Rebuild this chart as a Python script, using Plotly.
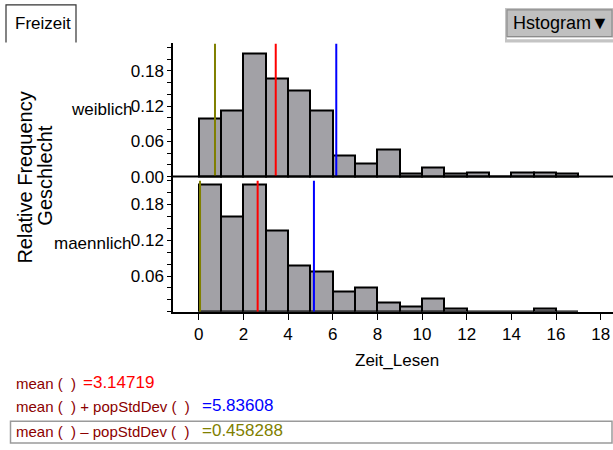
import plotly.graph_objects as go

W, H = 613, 450
FONT = "Liberation Sans, Arial, sans-serif"

# Histogram of reading time (hours), relative frequency per 1-hour bin, split by gender
bin_left = list(range(17))
weiblich = [0.100, 0.112, 0.210, 0.167, 0.147, 0.112, 0.037, 0.023, 0.046,
            0.006, 0.015, 0.006, 0.008, 0.0, 0.008, 0.008, 0.006]
maennlich = [0.214, 0.160, 0.214, 0.137, 0.077, 0.068, 0.034, 0.040, 0.015,
             0.008, 0.023, 0.006, 0.0, 0.0, 0.0, 0.006, 0.0]

# Group statistics drawn as vertical lines: mean, mean + sd, mean - sd
stat_weiblich = [3.45, 6.16, 0.73]
stat_maennlich = [2.64, 5.16, 0.06]
stat_colors = ["#ff0000", "#0000ff", "#808000"]

# Overall values shown in the formula area
overall_values = ["3.14719", "5.83608", "0.458288"]
formula_texts = ["mean (  )", "mean (  ) + popStdDev (  )", "mean (  ) \u2013 popStdDev (  )"]

group_labels = ["weiblich", "maennlich"]
x_ticks = list(range(0, 19, 2))


def px(x):
    return x / W


def py(y):
    return 1 - y / H


BAR_FILL = "#a2a1a6"
centers = [b + 0.5 for b in bin_left]

fig = go.Figure()
fig.add_trace(go.Bar(x=centers, y=weiblich, width=1, yaxis="y2", xaxis="x",
                     marker=dict(color=BAR_FILL, line=dict(color="black", width=2)),
                     showlegend=False))
fig.add_trace(go.Bar(x=centers, y=maennlich, width=1, yaxis="y", xaxis="x",
                     marker=dict(color=BAR_FILL, line=dict(color="black", width=2)),
                     showlegend=False))

UP_TOP = 0.227
LO_TOP = 0.2202

shapes = []
# statistic lines
for v, c in zip(stat_weiblich, stat_colors):
    shapes.append(dict(type="line", xref="x", yref="y2", x0=v, x1=v, y0=0, y1=UP_TOP,
                       line=dict(color=c, width=2), layer="above"))
for v, c in zip(stat_maennlich, stat_colors):
    shapes.append(dict(type="line", xref="x", yref="y", x0=v, x1=v, y0=0, y1=LO_TOP,
                       line=dict(color=c, width=2), layer="above"))
# baseline of the upper panel
shapes.append(dict(type="line", xref="x domain", yref="y2", x0=0, x1=1, y0=0, y1=0,
                   line=dict(color="black", width=2), layer="above"))

# "Freizeit" tab outline
shapes.append(dict(type="path", xref="paper", yref="paper",
                   path=f"M {px(6)} {py(43)} L {px(6)} {py(5)} L {px(76)} {py(5)} L {px(76)} {py(43)}",
                   line=dict(color="#333333", width=1.2)))
# "Hstogram" menu button
shapes.append(dict(type="rect", xref="paper", yref="paper", x0=px(505), x1=px(613),
                   y0=py(43), y1=py(8), fillcolor="#c4c4c4", line=dict(width=0)))
shapes.append(dict(type="rect", xref="paper", yref="paper", x0=px(507), x1=px(612),
                   y0=py(37), y1=py(10), fillcolor="#c0c0c0",
                   line=dict(color="#8c8c8c", width=1.2)))
shapes.append(dict(type="line", xref="paper", yref="paper", x0=px(507), x1=px(613),
                   y0=py(39), y1=py(39), line=dict(color="white", width=1.5)))
# box around the last formula line
shapes.append(dict(type="rect", xref="paper", yref="paper", x0=px(10.5), x1=px(612),
                   y0=py(449), y1=py(427), line=dict(color="#9a9a9a", width=1.5)))

ann = []
ann.append(dict(text="Freizeit", x=px(13), y=py(24), xref="paper", yref="paper",
                xanchor="left", yanchor="middle", showarrow=False,
                font=dict(family=FONT, size=17, color="black")))
ann.append(dict(text="Hstogram\u25bc", x=px(511), y=py(23), xref="paper", yref="paper",
                xanchor="left", yanchor="middle", showarrow=False,
                font=dict(family=FONT, size=18, color="black")))
ann.append(dict(text=group_labels[0], x=px(134), y=py(111), xref="paper", yref="paper",
                xanchor="right", yanchor="middle", showarrow=False,
                font=dict(family=FONT, size=17, color="black")))
ann.append(dict(text=group_labels[1], x=px(134), y=py(247), xref="paper", yref="paper",
                xanchor="right", yanchor="middle", showarrow=False,
                font=dict(family=FONT, size=17, color="black")))
ann.append(dict(text="Relative Frequency", x=px(25), y=py(180), xref="paper", yref="paper",
                xanchor="center", yanchor="middle", textangle=-90, showarrow=False,
                font=dict(family=FONT, size=20, color="black")))
ann.append(dict(text="Geschlecht", x=px(45), y=py(178), xref="paper", yref="paper",
                xanchor="center", yanchor="middle", textangle=-90, showarrow=False,
                font=dict(family=FONT, size=20, color="black")))
ann.append(dict(text="Zeit_Lesen", x=px(397), y=py(365), xref="paper", yref="paper",
                xanchor="center", yanchor="middle", showarrow=False,
                font=dict(family=FONT, size=17, color="black")))

row_y = [389, 412, 437]
val_x = [81, 200, 200]
for t, v, c, yy, vx in zip(formula_texts, overall_values, stat_colors, row_y, val_x):
    ann.append(dict(text=t, x=px(14), y=py(yy), xref="paper", yref="paper",
                    xanchor="left", yanchor="middle", showarrow=False,
                    font=dict(family=FONT, size=15, color="#8b0000")))
    ann.append(dict(text="=" + v, x=px(vx), y=py(yy - 1), xref="paper", yref="paper",
                    xanchor="left", yanchor="middle", showarrow=False,
                    font=dict(family=FONT, size=17, color=c)))

tickfont = dict(family=FONT, size=17, color="black")

fig.update_layout(
    width=W, height=H,
    margin=dict(l=0, r=0, t=0, b=0),
    paper_bgcolor="white", plot_bgcolor="white",
    barmode="overlay", bargap=0,
    shapes=shapes, annotations=ann,
    xaxis=dict(domain=[px(173), 1.0], range=[-1.15, 18.55], anchor="y",
               showgrid=False, zeroline=False, showline=True, linecolor="black", linewidth=1.5,
               tickmode="array", tickvals=x_ticks, ticktext=[str(v) for v in x_ticks],
               ticks="outside", ticklen=6, tickwidth=1.3, tickcolor="black", tickfont=tickfont),
    yaxis=dict(domain=[py(316), py(183)], range=[0, LO_TOP], anchor="x",
               showgrid=False, zeroline=False, showline=True, linecolor="black", linewidth=1.5,
               tickmode="array", tickvals=[0.06, 0.12, 0.18],
               ticktext=["0.06", "0.12", "0.18"],
               ticks="outside", ticklen=4, tickwidth=1.3, tickcolor="black", tickfont=tickfont,
               minor=dict(tickmode="linear", tick0=0, dtick=0.02, ticks="outside",
                          ticklen=4, tickwidth=1.3, tickcolor="black")),
    yaxis2=dict(domain=[py(183), py(44)], range=[-0.0067, UP_TOP], anchor="x",
                showgrid=False, zeroline=False, showline=True, linecolor="black", linewidth=1.5,
                tickmode="array", tickvals=[0.0, 0.06, 0.12, 0.18],
                ticktext=["0.00", "0.06", "0.12", "0.18"],
                ticks="outside", ticklen=4, tickwidth=1.3, tickcolor="black", tickfont=tickfont,
                minor=dict(tickmode="linear", tick0=0, dtick=0.02, ticks="outside",
                           ticklen=4, tickwidth=1.3, tickcolor="black")),
)

fig.write_html("out.html")
